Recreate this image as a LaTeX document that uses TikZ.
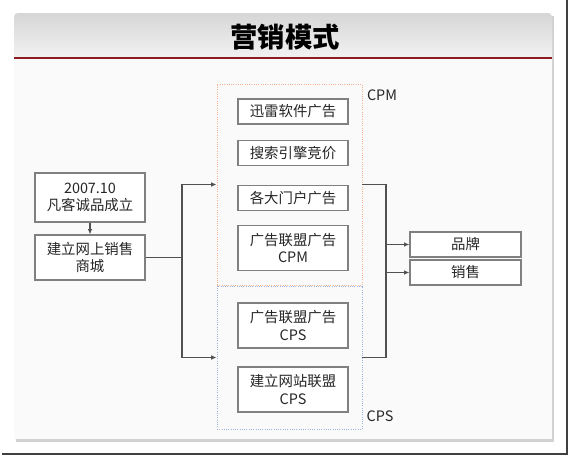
\documentclass[tikz,border=0pt]{standalone}
\usepackage{fontspec}
\setmainfont{Noto Sans CJK SC}
\usetikzlibrary{arrows.meta,positioning,calc,shadows}
\definecolor{slideRed}{HTML}{8C1C22}
\definecolor{boxLine}{HTML}{808080}
\definecolor{textDark}{HTML}{262626}
\definecolor{cpmLine}{HTML}{F5B48E}
\definecolor{cpsLine}{HTML}{9DB4E0}
\definecolor{titleTop}{HTML}{D6D6D6}
\definecolor{titleBot}{HTML}{F6F6F6}
\definecolor{bodyFill}{HTML}{FAFAFA}
\tikzset{
    % boxes
    adbox/.style={rectangle,draw=boxLine,fill=white,line width=0.9pt,inner sep=0pt,minimum width=82.5pt,minimum height=18.75pt,align=center,text=textDark,font=\fontsize{10.8}{13.2}\selectfont},
    tallbox/.style={adbox,minimum height=33.75pt},
    goalbox/.style={adbox,minimum width=83.25pt},
    cpmzone/.style={rectangle,draw=cpmLine,densely dotted,line width=0.7pt,inner sep=0pt,minimum width=108.75pt,minimum height=150.75pt},
    cpszone/.style={rectangle,draw=cpsLine,densely dotted,line width=0.7pt,inner sep=0pt,minimum width=108.75pt,minimum height=107.25pt},
    zonelabel/.style={text=textDark,font=\fontsize{10.8}{13}\selectfont,inner sep=0pt},
    % flow lines
    flow/.style={draw=textDark!80,line width=0.8pt},
    flowarrow/.style={flow,-{Latex[length=4pt,width=3.5pt]}}
}
\begin{document}
\begin{tikzpicture}[x=0.75pt,y=-0.75pt]
    \useasboundingbox (0,0) rectangle (571,458);
    % slide background
    \fill[white] (0,0) rectangle (571,458);
    \fill[bodyFill,drop shadow={opacity=0.35,shadow xshift=1.2pt,shadow yshift=-2pt}] (14,13) rectangle (552,439);
    \shade[top color=titleTop,bottom color=titleBot,rounded corners=3pt] (14,13) rectangle (552,64);
    \fill[bodyFill] (14,58) rectangle (552,66);
    \draw[slideRed,line width=1.6pt] (14,58) -- (552,58);
    \draw[black!75,line width=1.2pt] (2,454) -- (567,454) -- (567,0);
    \node[font=\fontsize{20.5}{24}\selectfont\bfseries] (title) at (285,37) {营销模式};

    % Left column
    \node[tallbox,minimum height=36.75pt] at (90,197.5) (found) {2007.10\\凡客诚品成立};
    \node[tallbox] at (90,257.5) (mall) {建立网上销售\\商城};

    % CPM / CPS zones
    \node[cpmzone] at (289.5,184.5) (cpm) {};
    \node[cpszone] at (289.5,357.5) (cps) {};
    \node[zonelabel] at (382,95) (cpmlabel) {CPM};
    \node[zonelabel] at (380,416) (cpslabel) {CPS};

    % Channels
    \node[adbox] at (293,111.5) (xunlei) {迅雷软件广告};
    \node[adbox] at (293,153) (search) {搜索引擎竞价};
    \node[adbox] at (293,198) (portal) {各大门户广告};
    \node[tallbox] at (293,248) (cpmad) {广告联盟广告\\CPM};
    \node[tallbox] at (293,325.5) (cpsad) {广告联盟广告\\CPS};
    \node[tallbox] at (293,389.5) (union) {建立网站联盟\\CPS};

    % Goals
    \node[goalbox] at (465.5,244.5) (brand) {品牌};
    \node[goalbox] at (465.5,272.5) (sales) {销售};

    % Arrows
    \coordinate (split) at (182,257.5);
    \coordinate (merge) at (386,258);
    \draw[flowarrow] (found) -- (mall);
    \draw[flow] (mall.east) -- (split);
    \draw[flowarrow] (split) |- (cpm.west);
    \draw[flowarrow] (split) |- (cps.west);
    \draw[flow] (cpm.east) -| (merge);
    \draw[flow] (cps.east) -| (merge);
    \draw[flowarrow] (merge |- brand.west) -- (brand.west);
    \draw[flowarrow] (merge |- sales.west) -- (sales.west);
\end{tikzpicture}
\end{document}
